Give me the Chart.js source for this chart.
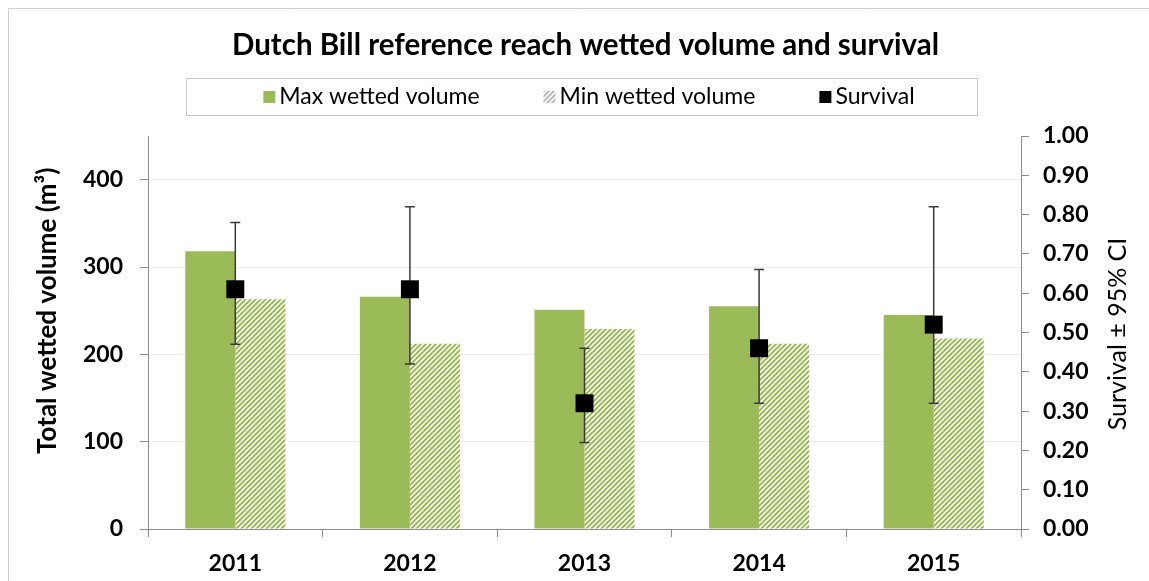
<!DOCTYPE html>
<html><head><meta charset="utf-8">
<script src="https://cdn.jsdelivr.net/npm/chart.js@4.4.0/dist/chart.umd.min.js"></script>
<style>html,body{margin:0;padding:0;background:#fff;}</style>
</head><body>
<canvas id="c" width="1149" height="581"></canvas>
<script>
const years = ['2011', '2012', '2013', '2014', '2015'];
const maxVolume = [318, 266, 251, 255, 245];
const minVolume = [263, 212, 229, 212, 218];
const survival = [0.61, 0.61, 0.32, 0.46, 0.52];
const survivalLow = [0.47, 0.42, 0.22, 0.32, 0.32];
const survivalHigh = [0.78, 0.82, 0.46, 0.66, 0.82];
const volumeTicks = [0, 100, 200, 300, 400];

const GREEN = '#9bbb59';
const FONT = 'Lato';

function makeHatch(color, bg) {
  const s = 5;
  const c = document.createElement('canvas');
  c.width = s; c.height = s;
  const g = c.getContext('2d');
  g.fillStyle = bg; g.fillRect(0, 0, s, s);
  g.strokeStyle = color; g.lineWidth = 2;
  g.beginPath();
  g.moveTo(-1, 1); g.lineTo(1, -1);
  g.moveTo(0, s); g.lineTo(s, 0);
  g.moveTo(s - 1, s + 1); g.lineTo(s + 1, s - 1);
  g.stroke();
  return g.createPattern(c, 'repeat');
}
const hatchGreen = makeHatch(GREEN, '#ffffff');
const hatchGray = makeHatch('#b8b8b8', '#ffffff');

const frame = {
  id: 'frame',
  beforeDraw(chart) {
    const ctx = chart.ctx;
    ctx.save();
    ctx.fillStyle = '#fff';
    ctx.fillRect(0, 0, chart.width, chart.height);
    ctx.strokeStyle = '#cfcfcf';
    ctx.lineWidth = 1;
    ctx.beginPath();
    ctx.moveTo(8.5, chart.height + 5); ctx.lineTo(8.5, 8.5); ctx.lineTo(chart.width + 5, 8.5);
    ctx.stroke();
    ctx.restore();
  }
};

const errorBars = {
  id: 'errorBars',
  beforeDatasetDraw(chart, args) {
    if (args.index !== 2) return;
    const meta = chart.getDatasetMeta(2);
    const y1 = chart.scales.y1;
    const ctx = chart.ctx;
    ctx.save();
    ctx.strokeStyle = '#3a3a3a';
    ctx.lineWidth = 1.5;
    meta.data.forEach((pt, i) => {
      const x = pt.x;
      const yl = y1.getPixelForValue(survivalLow[i]);
      const yh = y1.getPixelForValue(survivalHigh[i]);
      ctx.beginPath();
      ctx.moveTo(x, yl); ctx.lineTo(x, yh);
      ctx.moveTo(x - 5, yl); ctx.lineTo(x + 5, yl);
      ctx.moveTo(x - 5, yh); ctx.lineTo(x + 5, yh);
      ctx.stroke();
    });
    ctx.restore();
  }
};

const customLegend = {
  id: 'customLegend',
  afterDraw(chart) {
    const ctx = chart.ctx;
    ctx.save();
    ctx.strokeStyle = '#c8c8c8';
    ctx.lineWidth = 1;
    ctx.strokeRect(186.5, 78.5, 791, 37);
    ctx.font = '23px ' + FONT;
    ctx.textBaseline = 'middle';
    const sw = 12, g1 = 4, gap = 64, cy = 97;
    const items = chart.data.datasets.map(ds => ({label: ds.label, fill: ds.legendFill, w: ctx.measureText(ds.label).width}));
    let total = items.reduce((a, it) => a + sw + g1 + it.w, 0) + gap * (items.length - 1);
    let x = 589 - total / 2;
    items.forEach(it => {
      ctx.fillStyle = it.fill;
      ctx.fillRect(x, cy - sw / 2, sw, sw);
      x += sw + g1;
      ctx.fillStyle = '#000';
      ctx.textAlign = 'left';
      ctx.fillText(it.label, x, cy);
      x += it.w + gap;
    });
    // right axis title (reads bottom to top)
    ctx.font = '25px ' + FONT;
    ctx.translate(1118, 334);
    ctx.rotate(-Math.PI / 2);
    ctx.textAlign = 'center';
    ctx.fillStyle = '#000';
    ctx.fillText('Survival ± 95% CI', 0, 0);
    ctx.restore();
  }
};

const tickFont = {family: FONT, size: 23, weight: 'bold'};
const AXIS = '#8c8c8c';

new Chart(document.getElementById('c'), {
  type: 'bar',
  data: {
    labels: years,
    datasets: [
      {label: 'Max wetted volume', data: maxVolume, backgroundColor: GREEN, legendFill: GREEN, yAxisID: 'y', order: 1,
       categoryPercentage: 0.573, barPercentage: 1.0, borderWidth: 0},
      {label: 'Min wetted volume', data: minVolume, backgroundColor: hatchGreen, legendFill: hatchGray, yAxisID: 'y', order: 1,
       categoryPercentage: 0.573, barPercentage: 1.0, borderWidth: 0},
      {label: 'Survival', type: 'line', data: survival, yAxisID: 'y1', order: 0, showLine: false,
       pointStyle: 'rect', pointRadius: 12.7, pointHoverRadius: 12.7, backgroundColor: '#000', borderColor: '#000',
       borderWidth: 0, legendFill: '#000', clip: false}
    ]
  },
  options: {
    responsive: false,
    animation: false,
    layout: {padding: {left: 22, top: 0, right: 0, bottom: 0}},
    plugins: {
      legend: {display: false},
      tooltip: {enabled: false},
      title: {
        display: true,
        text: 'Dutch Bill reference reach wetted volume and survival',
        color: '#000',
        font: {family: FONT, size: 29.5, weight: 'bold'},
        padding: {top: 28, bottom: 72.6}
      }
    },
    scales: {
      x: {
        offset: true,
        grid: {offset: true, drawOnChartArea: false, color: AXIS, tickLength: 8, tickColor: AXIS},
        border: {color: AXIS},
        ticks: {font: tickFont, color: '#000', padding: 13},
        afterFit(s) { s.height = 52; }
      },
      y: {
        position: 'left',
        min: 0, max: 450,
        afterBuildTicks(axis) { axis.ticks = volumeTicks.map(v => ({value: v})); },
        grid: {color: '#ececec', tickLength: 8, tickColor: AXIS},
        border: {color: AXIS},
        ticks: {font: tickFont, color: '#000', padding: 17},
        title: {display: true, text: '\u00a0'.repeat(7) + 'Total wetted volume (m³)', color: '#000',
                font: {family: FONT, size: 26, weight: 'bold'}, padding: {top: 10, bottom: 0}},
        afterFit(s) { s.width = 126; }
      },
      y1: {
        position: 'right',
        min: 0, max: 1,
        ticks: {stepSize: 0.1, font: tickFont, color: '#000', padding: 14,
                callback: v => Number(v).toFixed(2)},
        grid: {drawOnChartArea: false, tickLength: 8, tickColor: AXIS, color: AXIS},
        border: {color: AXIS},
        afterFit(s) { s.width = 128; }
      }
    }
  },
  plugins: [frame, errorBars, customLegend]
});
</script>
</body></html>
